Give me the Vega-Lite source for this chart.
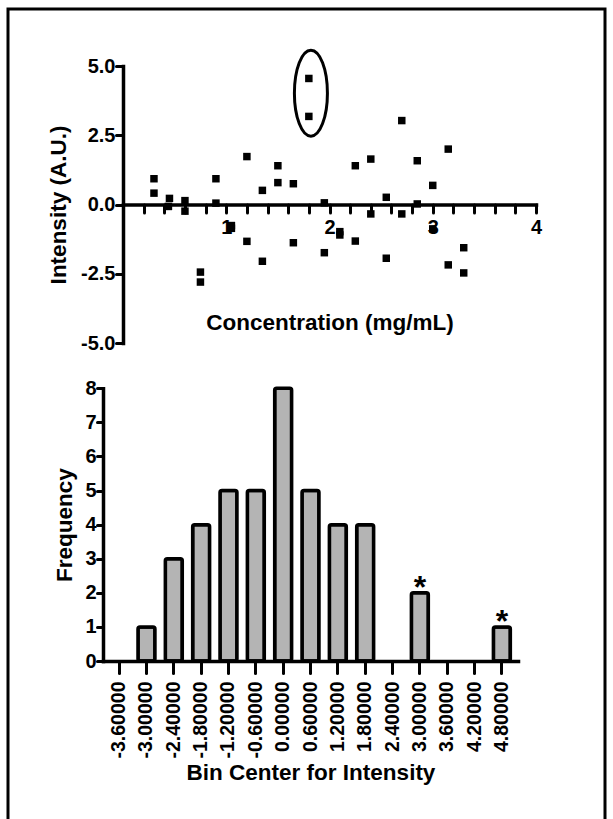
{
  "$schema": "https://vega.github.io/schema/vega-lite/v6.json",
  "width": 597,
  "height": 820,
  "autosize": {"type": "none"},
  "padding": {"left": 8, "top": 9, "right": 8, "bottom": 0},
  "background": "white",
  "config": {
    "view": {"stroke": "black", "strokeWidth": 3},
    "axis": {
      "grid": false,
      "domainColor": "black",
      "domainWidth": 3.5,
      "domainCap": "square",
      "tickColor": "black",
      "tickWidth": 3,
      "tickCap": "round",
      "labelFont": "Liberation Sans",
      "labelFontWeight": "bold",
      "labelColor": "black",
      "labelFontSize": 19,
      "labelOverlap": false,
      "labelFlush": false,
      "titleFont": "Liberation Sans",
      "titleFontWeight": "bold",
      "titleColor": "black",
      "titleFontSize": 22.5
    }
  },
  "datasets": {
    "scatter": [
      {"conc": 0.3, "intensity": 0.93}, {"conc": 0.3, "intensity": 0.41},
      {"conc": 0.45, "intensity": 0.22}, {"conc": 0.44, "intensity": -0.07},
      {"conc": 0.6, "intensity": 0.14}, {"conc": 0.6, "intensity": -0.24},
      {"conc": 0.75, "intensity": -2.44}, {"conc": 0.75, "intensity": -2.8},
      {"conc": 0.9, "intensity": 0.93}, {"conc": 0.9, "intensity": 0.05},
      {"conc": 1.05, "intensity": -0.76}, {"conc": 1.05, "intensity": -0.86},
      {"conc": 1.2, "intensity": 1.73}, {"conc": 1.2, "intensity": -1.33},
      {"conc": 1.35, "intensity": 0.51}, {"conc": 1.35, "intensity": -2.05},
      {"conc": 1.5, "intensity": 1.4}, {"conc": 1.5, "intensity": 0.79},
      {"conc": 1.65, "intensity": 0.75}, {"conc": 1.65, "intensity": -1.38},
      {"conc": 1.8, "intensity": 4.55}, {"conc": 1.8, "intensity": 3.18},
      {"conc": 1.95, "intensity": 0.06}, {"conc": 1.95, "intensity": -1.74},
      {"conc": 2.1, "intensity": -0.98}, {"conc": 2.1, "intensity": -1.1},
      {"conc": 2.25, "intensity": 1.4}, {"conc": 2.25, "intensity": -1.32},
      {"conc": 2.4, "intensity": 1.64}, {"conc": 2.4, "intensity": -0.34},
      {"conc": 2.55, "intensity": 0.26}, {"conc": 2.55, "intensity": -1.94},
      {"conc": 2.7, "intensity": 3.03}, {"conc": 2.7, "intensity": -0.34},
      {"conc": 2.85, "intensity": 1.58}, {"conc": 2.85, "intensity": 0.02},
      {"conc": 3.0, "intensity": 0.69}, {"conc": 3.0, "intensity": -0.88},
      {"conc": 3.15, "intensity": 2.0}, {"conc": 3.15, "intensity": -2.18},
      {"conc": 3.3, "intensity": -1.56}, {"conc": 3.3, "intensity": -2.47}
    ],
    "ellipse": [
      {"conc": 1.82, "intensity": 4.02}
    ],
    "hist": [
      {"bin": "-3.60000", "count": 0, "star": ""},
      {"bin": "-3.00000", "count": 1, "star": ""},
      {"bin": "-2.40000", "count": 3, "star": ""},
      {"bin": "-1.80000", "count": 4, "star": ""},
      {"bin": "-1.20000", "count": 5, "star": ""},
      {"bin": "-0.60000", "count": 5, "star": ""},
      {"bin": "0.00000", "count": 8, "star": ""},
      {"bin": "0.60000", "count": 5, "star": ""},
      {"bin": "1.20000", "count": 4, "star": ""},
      {"bin": "1.80000", "count": 4, "star": ""},
      {"bin": "2.40000", "count": 0, "star": ""},
      {"bin": "3.00000", "count": 2, "star": "*"},
      {"bin": "3.60000", "count": 0, "star": ""},
      {"bin": "4.20000", "count": 0, "star": ""},
      {"bin": "4.80000", "count": 1, "star": "*"}
    ]
  },
  "layer": [
    {
      "encoding": {
        "x": {
          "field": "conc", "type": "quantitative", "title": "Concentration (mg/mL)",
          "scale": {"domain": [0, 4], "range": [115, 528], "nice": false, "zero": false},
          "axis": {
            "orient": "bottom", "offset": -624.5,
            "values": [0.2, 0.4, 0.6, 0.8, 1, 1.2, 1.4, 1.6, 1.8, 2, 2.2, 2.4, 2.6, 2.8, 3, 3.2, 3.4, 3.6, 3.8, 4],
            "labelExpr": "datum.value == 1 || datum.value == 2 || datum.value == 3 || datum.value == 4 ? format(datum.value, 'd') : ''",
            "labelOverlap": false,
            "labelSeparation": 0,
            "labelFontSize": 20,
            "tickSize": 8, "labelPadding": 5,
            "titleY": 125, "titleBaseline": "alphabetic"
          }
        },
        "y": {
          "field": "intensity", "type": "quantitative", "title": "Intensity (A.U.)",
          "scale": {"domain": [-5, 5], "range": [334, 57], "nice": false, "zero": false},
          "axis": {
            "orient": "left", "offset": -115,
            "values": [-5, -2.5, 0, 2.5, 5],
            "labelExpr": "(datum.value < 0 ? '-' : '') + format(abs(datum.value), '.1f')",
            "labelOverlap": false,
            "labelFontSize": 20,
            "tickSize": 7, "labelPadding": 1,
            "titleX": -57.5, "titleBaseline": "alphabetic"
          }
        }
      },
      "layer": [
        {
          "data": {"name": "scatter"},
          "mark": {"type": "point", "shape": "square", "filled": true, "size": 56, "color": "black", "opacity": 1}
        },
        {
          "data": {"name": "ellipse"},
          "mark": {"type": "point", "shape": "M0,-1A0.384,1,0,1,1,0,1A0.384,1,0,1,1,0,-1Z", "size": 7396, "filled": false, "stroke": "black", "strokeWidth": 3, "opacity": 1}
        }
      ]
    },
    {
      "data": {"name": "hist"},
      "encoding": {
        "x": {
          "field": "bin", "type": "ordinal", "title": "Bin Center for Intensity",
          "scale": {
            "domain": ["-3.60000", "-3.00000", "-2.40000", "-1.80000", "-1.20000", "-0.60000", "0.00000", "0.60000", "1.20000", "1.80000", "2.40000", "3.00000", "3.60000", "4.20000", "4.80000"],
            "range": [95, 510], "paddingInner": 0.38, "paddingOuter": 0.28
          },
          "axis": {
            "orient": "bottom", "offset": -168,
            "labelAngle": 270, "labelFontSize": 19.5, "labelPadding": 8, "tickSize": 12,
            "labelOverlap": false,
            "titleY": 118.7, "titleBaseline": "alphabetic"
          }
        },
        "y": {
          "field": "count", "type": "quantitative", "title": "Frequency",
          "scale": {"domain": [0, 8], "range": [652, 379.3], "nice": false, "zero": true},
          "axis": {
            "orient": "left", "offset": -95,
            "values": [0, 1, 2, 3, 4, 5, 6, 7, 8],
            "labelOverlap": false,
            "labelFontSize": 20, "tickSize": 6, "labelPadding": 1,
            "titleX": -32, "titleBaseline": "alphabetic"
          }
        }
      },
      "layer": [
        {
          "transform": [{"filter": "datum.count > 0"}],
          "mark": {"type": "bar", "fill": "#b4b4b4", "stroke": "black", "strokeWidth": 3.5, "cornerRadius": 2}
        },
        {
          "transform": [{"filter": "datum.star != ''"}],
          "mark": {"type": "text", "font": "Liberation Sans", "fontWeight": "bold", "fontSize": 32, "color": "black", "baseline": "alphabetic", "dy": 5},
          "encoding": {"text": {"field": "star"}}
        }
      ]
    }
  ],
  "resolve": {"scale": {"x": "independent", "y": "independent"}, "axis": {"x": "independent", "y": "independent"}}
}
